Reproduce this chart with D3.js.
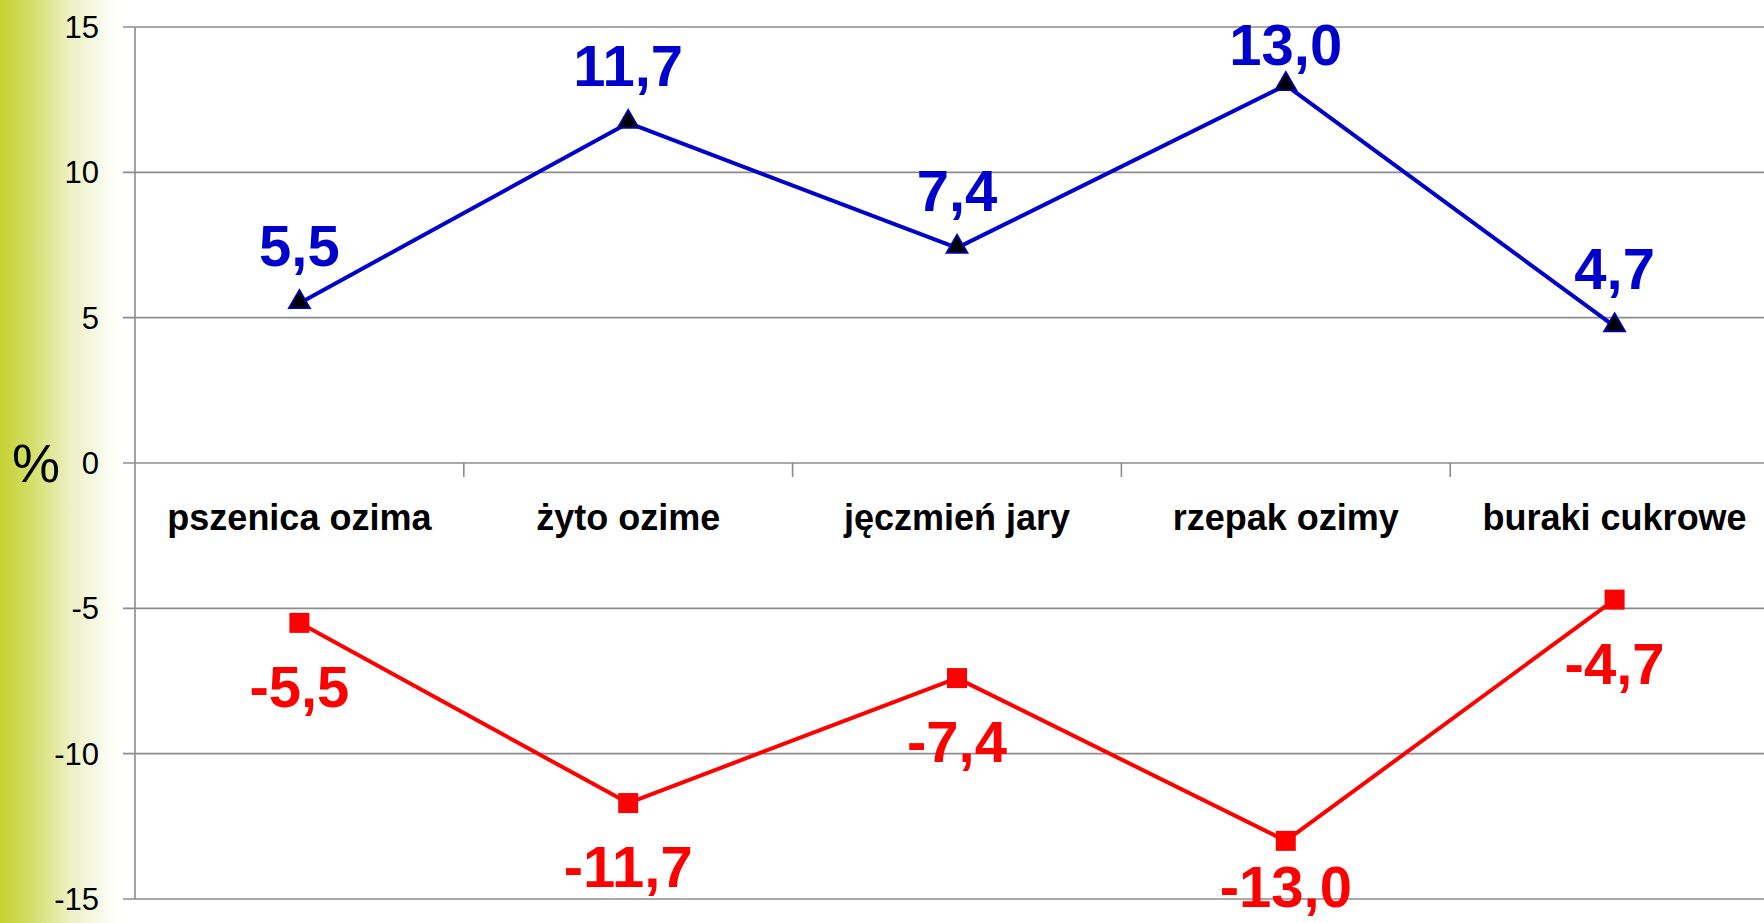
<!DOCTYPE html>
<html>
<head>
<meta charset="utf-8">
<script src="https://cdn.jsdelivr.net/npm/d3@7"></script>
<style>
  html, body { margin: 0; padding: 0; background: #fff; overflow: hidden; }
  svg { display: block; }
  text { font-family: "Liberation Sans", Arial, sans-serif; }
</style>
</head>
<body>
<svg id="chart" width="1764" height="923"></svg>
<script>
const categories = ["pszenica ozima", "żyto ozime", "jęczmień jary", "rzepak ozimy", "buraki cukrowe"];
const upValues = [5.5, 11.7, 7.4, 13.0, 4.7];
const downValues = [-5.5, -11.7, -7.4, -13.0, -4.7];
const yTicks = [15, 10, 5, 0, -5, -10, -15];
const yLabel = "%";

const W = 1764, H = 923;
const svg = d3.select("#chart");

// left gradient background
const defs = svg.append("defs");
const grad = defs.append("linearGradient").attr("id", "lg").attr("x1", "0").attr("x2", "1").attr("y1", "0").attr("y2", "0");
grad.append("stop").attr("offset", "0").attr("stop-color", "#c5d232");
grad.append("stop").attr("offset", "0.25").attr("stop-color", "#d3dd66");
grad.append("stop").attr("offset", "0.6").attr("stop-color", "#ecf1c4");
grad.append("stop").attr("offset", "1").attr("stop-color", "#ffffff");
svg.append("rect").attr("x", 0).attr("y", 0).attr("width", 118).attr("height", H).attr("fill", "url(#lg)");

const left = 135, bandW = 328.8;
const x = d3.scaleBand().domain(categories).range([left, left + bandW * categories.length]).padding(0);
const y = d3.scaleLinear().domain([-15, 15]).range([899, 27]);

// gridlines
svg.append("g").selectAll("line").data(yTicks).join("line")
  .attr("x1", left - 12).attr("x2", W)
  .attr("y1", d => y(d)).attr("y2", d => y(d))
  .attr("stroke", "#8c8c8c").attr("stroke-width", 1.6);

// y axis line
svg.append("line").attr("x1", left).attr("x2", left).attr("y1", y(15)).attr("y2", y(-15))
  .attr("stroke", "#8c8c8c").attr("stroke-width", 1.6);

// y tick labels
svg.append("g").selectAll("text").data(yTicks).join("text")
  .attr("x", 99).attr("y", d => y(d)).attr("dy", "0.35em")
  .attr("text-anchor", "end").attr("font-size", 31).attr("fill", "#000")
  .text(d => d);

// y label
svg.append("text").attr("x", 36).attr("y", y(0)).attr("dy", "0.36em")
  .attr("text-anchor", "middle").attr("font-size", 54).attr("fill", "#000").text(yLabel);

// category tick marks on zero line
const bounds = categories.slice(1).map(c => x(c));
svg.append("g").selectAll("line").data(bounds).join("line")
  .attr("x1", d => d).attr("x2", d => d).attr("y1", y(0)).attr("y2", y(0) + 14)
  .attr("stroke", "#8c8c8c").attr("stroke-width", 1.6);

// category labels
svg.append("g").selectAll("text").data(categories).join("text")
  .attr("x", d => x(d) + x.bandwidth() / 2).attr("y", 530)
  .attr("text-anchor", "middle").attr("font-size", 36).attr("font-weight", "bold").attr("fill", "#000")
  .text(d => d);

const cx = (d, i) => x(categories[i]) + x.bandwidth() / 2;
const line = d3.line().x((d, i) => cx(d, i)).y(d => y(d));

// blue series
svg.append("path").datum(upValues).attr("d", line).attr("fill", "none")
  .attr("stroke", "#0000cc").attr("stroke-width", 4).attr("stroke-linejoin", "round");
const tri = d3.symbol().type(d3.symbolTriangle).size(200);
svg.append("g").selectAll("path").data(upValues).join("path")
  .attr("d", tri).attr("transform", (d, i) => `translate(${cx(d, i)},${y(d) - 1})`)
  .attr("fill", "#000").attr("stroke", "#0000cc").attr("stroke-width", 1.5);

// red series
svg.append("path").datum(downValues).attr("d", line).attr("fill", "none")
  .attr("stroke", "#ff0000").attr("stroke-width", 4).attr("stroke-linejoin", "round");
svg.append("g").selectAll("rect").data(downValues).join("rect")
  .attr("x", (d, i) => cx(d, i) - 10).attr("y", d => y(d) - 10)
  .attr("width", 20).attr("height", 20).attr("fill", "#ff0000");

const fmt = v => v.toFixed(1).replace(".", ",");

// blue labels
svg.append("g").selectAll("text").data(upValues).join("text")
  .attr("x", (d, i) => cx(d, i)).attr("y", d => Math.max(y(d) - 37, 65))
  .attr("text-anchor", "middle").attr("font-size", 58).attr("font-weight", "bold").attr("fill", "#0000cc")
  .text(fmt);

// red labels
svg.append("g").selectAll("text").data(downValues).join("text")
  .attr("x", (d, i) => cx(d, i)).attr("y", d => Math.min(y(d) + 84, 907))
  .attr("text-anchor", "middle").attr("font-size", 58).attr("font-weight", "bold").attr("fill", "#ff0000")
  .text(fmt);
</script>
</body>
</html>
